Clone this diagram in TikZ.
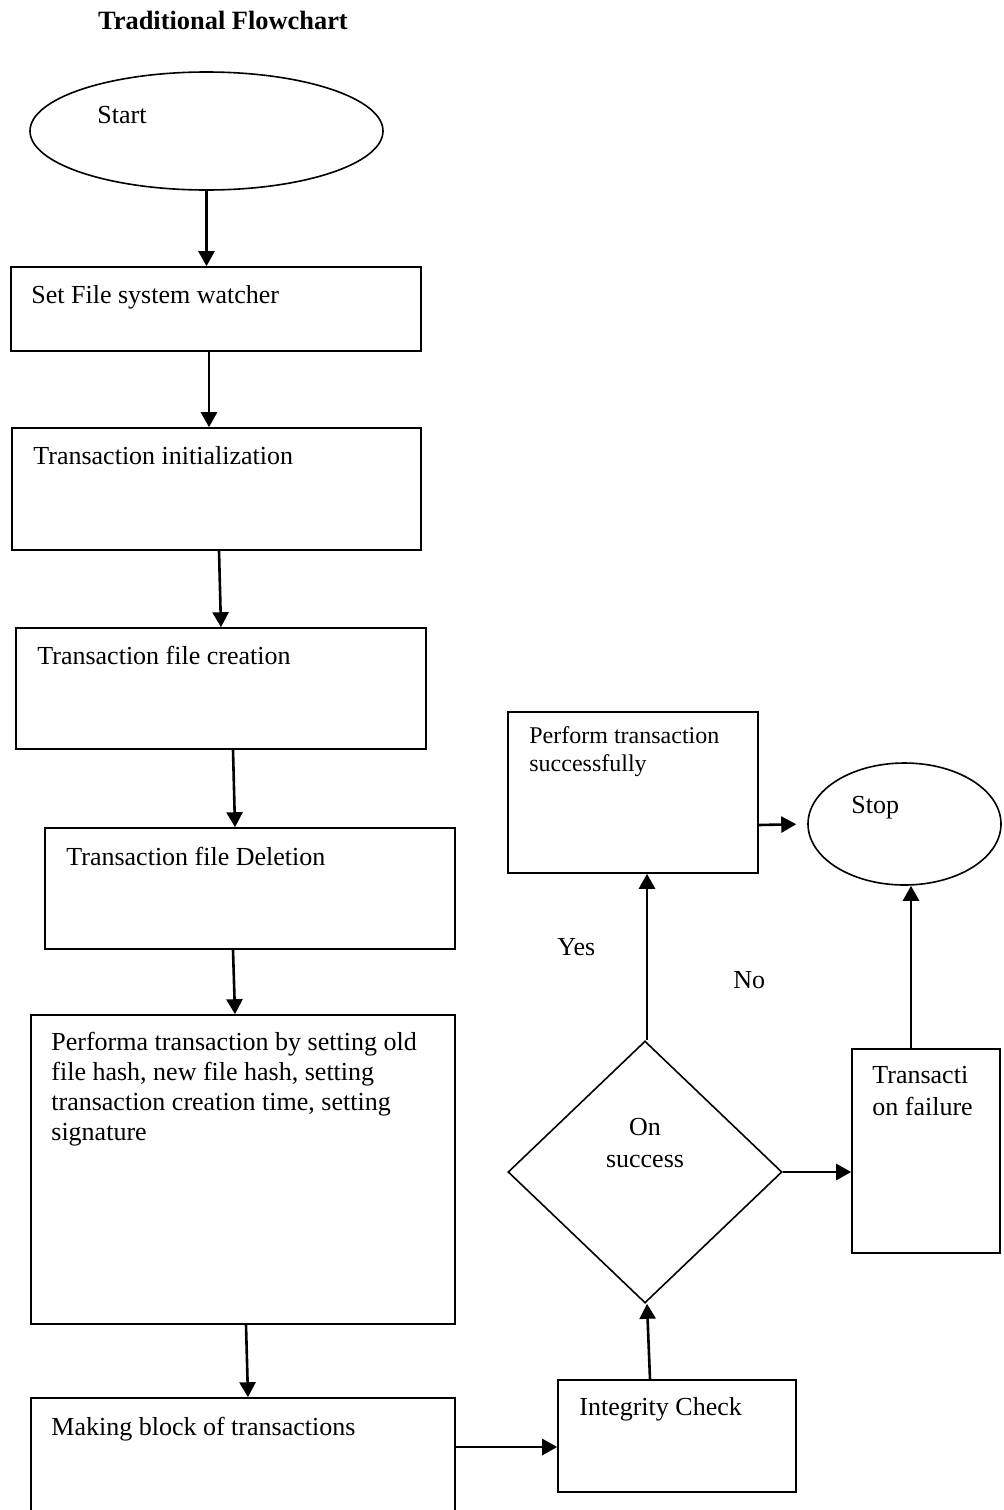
\documentclass[tikz,border=0pt]{standalone}
\usepackage{fontspec}
\setmainfont{Liberation Serif}
\usetikzlibrary{shapes.geometric, arrows.meta, calc}

\tikzset{
    procbox/.style={
        rectangle,
        draw=black,
        line width=0.8pt,
        inner sep=0pt
    },
    termnode/.style={
        ellipse,
        draw=black,
        line width=0.8pt,
        inner sep=0pt
    },
    decnode/.style={
        diamond,
        draw=black,
        line width=0.8pt,
        inner sep=0pt
    },
    boxtext/.style={
        anchor=base west,
        inner sep=0pt,
        align=left,
        font=\fontsize{13}{15}\selectfont
    },
    arrow/.style={
        -{Triangle[length=7.5pt, width=8pt]},
        line width=1.3pt,
        color=black
    },
}

\begin{document}
\begin{tikzpicture}[x=0.5pt, y=-0.5pt]
    \useasboundingbox (0,0) rectangle (1003,1510);
    \clip (0,0) rectangle (1003,1510);

    \node[boxtext, anchor=base, font=\fontsize{13.2}{15}\selectfont\bfseries] (title) at (223,29) {Traditional Flowchart};

    % left column
    \node[termnode, minimum width=176.5pt, minimum height=59pt] (start) at (206.5,131) {};
    \node[boxtext] (starttext) at (97,123) {Start};
    \node[procbox, minimum width=205pt, minimum height=42pt] (watch) at (216,309) {};
    \node[boxtext] (watchtext) at (31,303) {Set File system watcher};
    \node[procbox, minimum width=204.5pt, minimum height=61pt] (init) at (216.5,489) {};
    \node[boxtext] (inittext) at (33,464) {Transaction initialization};
    \node[procbox, minimum width=205pt, minimum height=60.5pt] (create) at (221,688.5) {};
    \node[boxtext] (createtext) at (37,664) {Transaction file creation};
    \node[procbox, minimum width=205pt, minimum height=60.5pt] (delete) at (250,888.5) {};
    \node[boxtext] (deletetext) at (66,865) {Transaction file Deletion};
    \node[procbox, minimum width=212pt, minimum height=154.5pt] (perform) at (243,1169.5) {};
    % base of a multi-line node is its last line
    \node[boxtext] (performtext) at (51,1140) {Performa transaction by setting old\\file hash, new file hash, setting\\transaction creation time, setting\\signature};
    \node[procbox, minimum width=212pt, minimum height=71pt] (block) at (243,1469) {};
    \node[boxtext] (blocktext) at (51,1435) {Making block of transactions};

    % right part
    \node[procbox, minimum width=119pt, minimum height=56pt] (integ) at (677,1436) {};
    \node[boxtext] (integtext) at (579,1415) {Integrity Check};
    \node[decnode, minimum width=137pt, minimum height=131pt] (dec) at (645,1172) {};
    \node[boxtext, anchor=base, align=center, font=\fontsize{13}{16}\selectfont] (dectext) at (645,1167) {On\\success};
    \node[procbox, minimum width=125pt, minimum height=80.5pt] (succ) at (633,792.5) {};
    \node[boxtext, font=\fontsize{12}{14}\selectfont] (succtext) at (529,771) {Perform transaction\\successfully};
    \node[termnode, minimum width=96.5pt, minimum height=61pt] (stop) at (904.5,824) {};
    \node[boxtext] (stoptext) at (851,813) {Stop};
    \node[procbox, minimum width=74pt, minimum height=102pt] (fail) at (926,1151) {};
    \node[boxtext, font=\fontsize{13}{16}\selectfont] (failtext) at (872,1115) {Transacti\\on failure};
    \node[boxtext] (yes) at (557,955) {Yes};
    \node[boxtext] (no) at (733,988) {No};

    % connectors
    \draw[arrow] (start.south) -- (start.south |- watch.north);
    \draw[arrow] ($(watch.south)+(-7,0)$) -- ($(init.north)+(-7.5,0)$);
    \draw[arrow] ($(init.south)+(2.5,0)$) -- (create.north);
    \draw[arrow] ($(create.south)+(12,0)$) -- ($(delete.north)+(-15,0)$);
    \draw[arrow] ($(delete.south)+(-17,0)$) -- ($(perform.north)+(-8,0)$);
    \draw[arrow] ($(perform.south)+(3,0)$) -- ($(block.north)+(5,0)$);
    \coordinate (intin) at ($(integ.west)+(0,11)$);
    \draw[arrow] (block.east |- intin) -- (intin);
    \draw[arrow] ($(integ.north)+(-27,0)$) -- ($(dec.south)+(2,0)$);
    \coordinate (decup) at ($(dec.north)+(2,0)$);
    \draw[arrow] (decup) -- (decup |- succ.south);
    \draw[arrow, shorten >=5.5pt] ($(succ.east)+(0,32.5)$) -- (stop.west);
    \draw[arrow] (dec.east) -- (fail.west |- dec.east);
    \coordinate (failup) at ($(fail.north)+(-15,0)$);
    \draw[arrow] (failup) -- (failup |- stop.south);
\end{tikzpicture}
\end{document}
